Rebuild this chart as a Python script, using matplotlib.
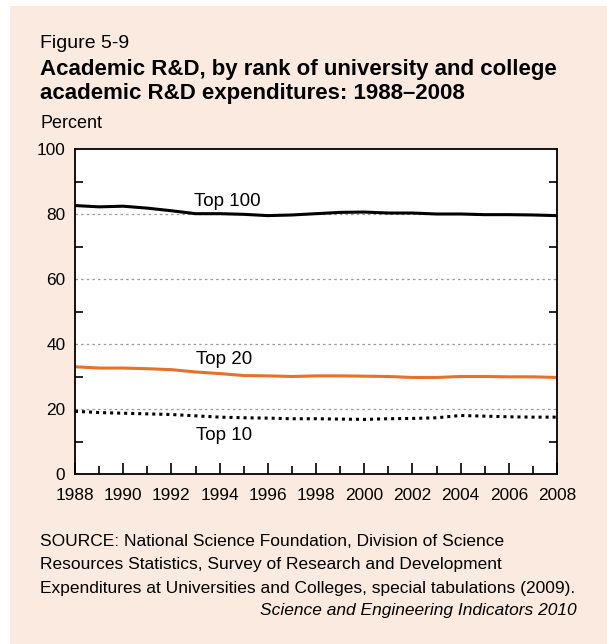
import matplotlib.pyplot as plt
from matplotlib.patches import Rectangle
from matplotlib.ticker import MultipleLocator

plt.rcParams['font.family'] = ['Liberation Sans', 'DejaVu Sans']

years = list(range(1988, 2009))
top100 = [82.6, 82.2, 82.4, 81.8, 81.0, 80.1, 80.1, 79.9, 79.5, 79.7, 80.1,
          80.5, 80.6, 80.3, 80.3, 80.0, 80.0, 79.8, 79.8, 79.7, 79.5]
top20 = [33.0, 32.6, 32.6, 32.4, 32.1, 31.4, 30.9, 30.3, 30.2, 30.0, 30.2,
         30.2, 30.1, 30.0, 29.7, 29.7, 30.0, 30.0, 29.9, 29.9, 29.7]
top10 = [19.3, 18.9, 18.7, 18.5, 18.3, 17.9, 17.5, 17.3, 17.2, 17.0, 17.0,
         16.9, 16.8, 17.0, 17.1, 17.3, 18.0, 17.8, 17.6, 17.5, 17.5]
xlabels = [str(y) for y in range(1988, 2009, 2)]

W, H = 607, 644
fig = plt.figure(figsize=(W / 100, H / 100), dpi=100)
fig.patch.set_facecolor('white')
bg = '#fbeadf'
fig.patches.append(Rectangle((10 / W, 0), 1 - 10 / W, 1 - 6 / H, transform=fig.transFigure,
                             facecolor=bg, edgecolor='none', zorder=-10))

ax = fig.add_axes([75 / W, 1 - 474 / H, (557 - 75) / W, (474 - 149) / H])
ax.set_facecolor('white')

ax.plot(years, top100, color='black', lw=2.2)
ax.plot(years, top20, color='#e8702a', lw=2.2)
ax.plot(years, top10, color='black', lw=2.2, linestyle=(0, (1, 1.3)))

ax.set_xlim(1988, 2008)
ax.set_ylim(0, 100)
ax.set_xticks(range(1988, 2009, 2))
ax.set_xticklabels(xlabels)
ax.xaxis.set_minor_locator(MultipleLocator(1))
ax.set_yticks(range(0, 101, 20))
ax.yaxis.set_minor_locator(MultipleLocator(10))
ax.tick_params(axis='both', which='major', direction='in', labelsize=12.4, length=8, width=1.2)
ax.tick_params(axis='x', which='major', pad=10)
ax.tick_params(axis='y', which='major', length=0, pad=7)
ax.tick_params(axis='both', which='minor', direction='in', length=6, width=1.2)
ax.tick_params(axis='y', which='minor', right=True)

for v in [20, 40, 60, 80]:
    ax.axhline(v, color='#999999', lw=0.9, linestyle=(0, (2, 2.5)), zorder=0)

for s in ax.spines.values():
    s.set_linewidth(1.3)

ax.text(1994.3, 84.0, 'Top 100', ha='center', va='center', fontsize=13.5)
ax.text(1994.2, 35.2, 'Top 20', ha='center', va='center', fontsize=13.5)
ax.text(1994.2, 11.8, 'Top 10', ha='center', va='center', fontsize=13.5)

fig.text(40 / W, 1 - 44 / H, 'Figure 5-9', fontsize=14, va='center')
fig.text(40 / W, 1 - 69 / H, 'Academic R&D, by rank of university and college',
         fontsize=16, fontweight='bold', va='center')
fig.text(40 / W, 1 - 93 / H, 'academic R&D expenditures: 1988\u20132008',
         fontsize=16, fontweight='bold', va='center')
fig.text(40 / W, 1 - 124 / H, 'Percent', fontsize=13, va='center')

src = ['SOURCE: National Science Foundation, Division of Science',
       'Resources Statistics, Survey of Research and Development',
       'Expenditures at Universities and Colleges, special tabulations (2009).']
for i, line in enumerate(src):
    fig.text(40 / W, 1 - (541.5 + i * 23.5) / H, line, fontsize=12.5, va='center')
fig.text(577 / W, 1 - 611 / H, 'Science and Engineering Indicators 2010',
         fontsize=12.5, style='italic', ha='right', va='center')

fig.savefig('out.png', dpi=100, facecolor=fig.get_facecolor())
